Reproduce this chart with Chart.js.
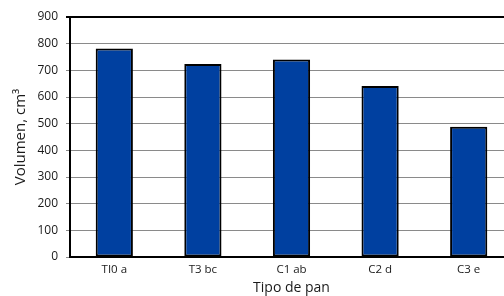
<!DOCTYPE html>
<html>
<head>
<meta charset="utf-8">
<script src="https://cdn.jsdelivr.net/npm/chart.js@4"></script>
<style>
  body { margin: 0; overflow: hidden; background: #fff; }
</style>
</head>
<body>
<canvas id="myChart" width="514" height="296"></canvas>
<script>
var categories = ["TI0 a", "T3 bc", "C1 ab", "C2 d", "C3 e"];
var volumen = [782, 724, 741, 641, 488];
var yTicks = [0, 100, 200, 300, 400, 500, 600, 700, 800, 900];

var ctx = document.getElementById("myChart");

// black frame line along the top of the plot area
var topLine = {
  id: 'topLine',
  afterDraw: function (chart) {
    var a = chart.chartArea, c = chart.ctx;
    c.save();
    c.strokeStyle = "#000";
    c.lineWidth = 2;
    c.beginPath();
    c.moveTo(a.left - 4, a.top);
    c.lineTo(a.right, a.top);
    c.stroke();
    c.restore();
  }
};

var myChart = new Chart(ctx, {
  type: 'bar',
  data: {
    labels: categories,
    datasets: [{
      data: volumen,
      backgroundColor: "#0040A0",
      borderColor: "#000000",
      borderWidth: 2,
      borderSkipped: false,
      barPercentage: 0.42,
      categoryPercentage: 1
    }]
  },
  options: {
    responsive: false,
    animation: false,
    layout: { padding: { top: 17, right: 1, left: 0, bottom: 0 } },
    plugins: {
      legend: { display: false },
      tooltip: { enabled: false }
    },
    scales: {
      x: {
        grid: { display: false, drawTicks: false },
        border: { display: true, color: "#000", width: 2 },
        ticks: { color: "#1a1a1a", padding: 6, font: { family: "Open Sans", size: 11.5 } },
        title: {
          display: true,
          text: "Tipo de pan",
          color: "#1a1a1a",
          font: { family: "Open Sans", size: 14 },
          padding: { top: 0, bottom: 0 }
        },
        afterFit: function (scale) { scale.height = 39; }
      },
      y: {
        min: 0,
        max: 900,
        afterBuildTicks: function (scale) {
          scale.ticks = yTicks.map(function (v) { return { value: v }; });
        },
        grid: {
          color: "#8a8a8a",
          lineWidth: 1,
          tickColor: "#8a8a8a",
          tickLength: 4
        },
        border: { display: true, color: "#000", width: 2 },
        ticks: { color: "#1a1a1a", padding: 8, font: { family: "Open Sans", size: 12 } },
        title: {
          display: true,
          text: "Volumen, cm³",
          color: "#1a1a1a",
          font: { family: "Open Sans", size: 15 },
          padding: { top: 12, bottom: 0 }
        },
        afterFit: function (scale) { scale.width = 70; }
      }
    }
  },
  plugins: [topLine]
});
</script>
</body>
</html>
